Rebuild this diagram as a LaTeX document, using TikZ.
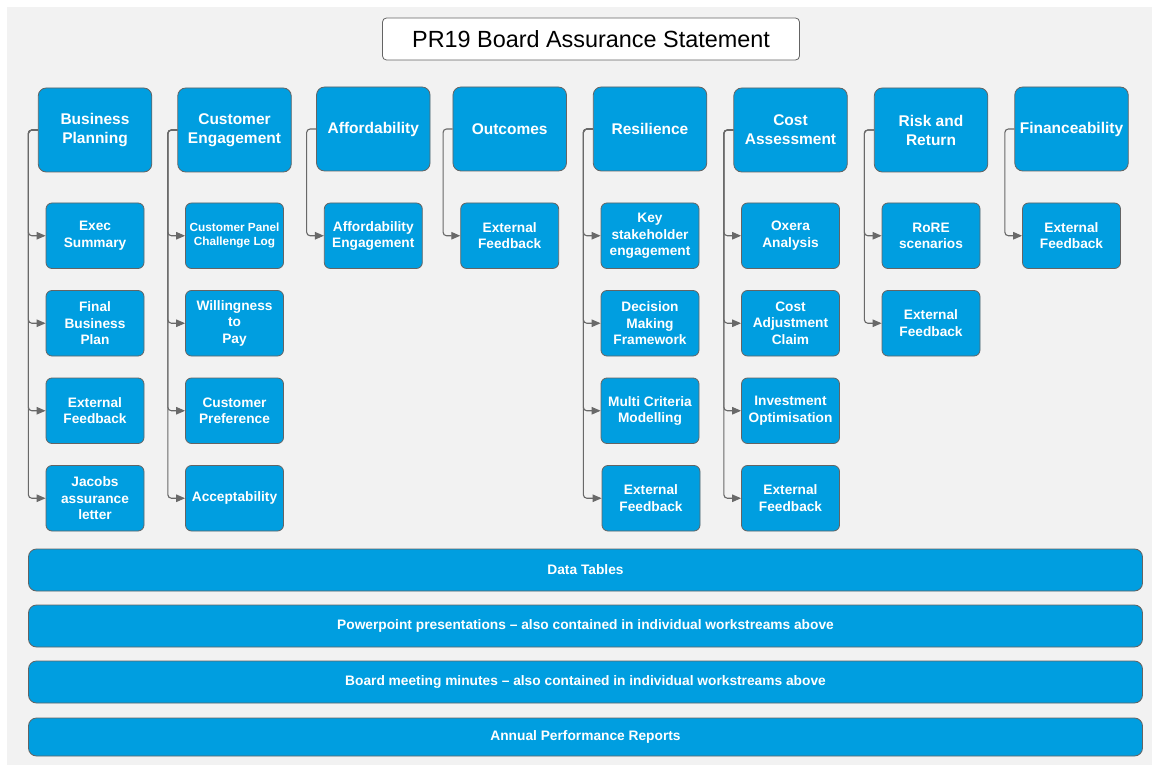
\documentclass[tikz,border=0pt]{standalone}
\usepackage{fontspec}
\setmainfont{Liberation Sans}
\usetikzlibrary{arrows.meta}
\definecolor{boxblue}{RGB}{0,158,224}
\definecolor{bggray}{RGB}{242,242,242}
\definecolor{edgegray}{RGB}{100,100,100}
\definecolor{linegray}{RGB}{105,105,105}
\tikzset{
  parentbox/.style={draw=edgegray, line width=0.8pt, fill=boxblue, rounded corners=8pt,
    minimum width=113.5pt, minimum height=84pt, inner sep=0pt, text=white, align=center,
    font=\bfseries\fontsize{15.5}{19}\selectfont},
  childbox/.style={draw=edgegray, line width=0.8pt, fill=boxblue, rounded corners=6pt,
    minimum width=98pt, minimum height=65.5pt, inner sep=0pt, text=white, align=center,
    font=\bfseries\fontsize{13.7}{16.5}\selectfont},
  smalltext/.style={font=\bfseries\fontsize{11.8}{14.3}\selectfont},
  barbox/.style={draw=edgegray, line width=0.8pt, fill=boxblue, rounded corners=8pt,
    minimum width=1114pt, inner sep=0pt, text=white,
    font=\bfseries\fontsize{13.75}{16.5}\selectfont},
  titlebox/.style={draw=edgegray, line width=0.8pt, fill=white, rounded corners=4pt,
    minimum width=417pt, minimum height=42pt, inner sep=0pt, text=black,
    font=\fontsize{23.4}{28}\selectfont},
  conn/.style={draw=linegray, line width=1.1pt, rounded corners=3.5pt,
    -{Triangle[length=9pt,width=7.5pt]}}
}
\begin{document}
\begin{tikzpicture}[x=1pt,y=-1pt]
\useasboundingbox (0,0) rectangle (1152,765);
\fill[bggray] (7,7) rectangle (1152,765);

\node[titlebox] (title) at (591,39) {PR19 Board Assurance Statement};

% parents
\node[parentbox] (p1) at (95,130) {Business\\Planning};
\node[parentbox] (p2) at (234.5,130) {Customer\\Engagement};
\node[parentbox] (p3) at (373.3,129) {Affordability};
\node[parentbox] (p4) at (509.7,129) {Outcomes};
\node[parentbox] (p5) at (650,129) {Resilience};
\node[parentbox] (p6) at (790.5,130) {Cost\\Assessment};
\node[parentbox] (p7) at (931,130) {Risk and\\Return};
\node[parentbox] (p8) at (1071.5,129) {Financeability};

% column 1
\node[childbox] (c11) at (95,235.75) {Exec\\Summary};
\node[childbox] (c12) at (95,323.25) {Final\\Business\\Plan};
\node[childbox] (c13) at (95,410.75) {External\\Feedback};
\node[childbox] (c14) at (95,498.25) {Jacobs\\assurance\\letter};
% column 2
\node[childbox,smalltext] (c21) at (234.5,235.75) {Customer Panel\\Challenge Log};
\node[childbox] (c22) at (234.5,323.25) {Willingness\\to\\Pay};
\node[childbox] (c23) at (234.5,410.75) {Customer\\Preference};
\node[childbox] (c24) at (234.5,498.25) {Acceptability};
% column 3
\node[childbox] (c31) at (373.3,235.75) {Affordability\\Engagement};
% column 4
\node[childbox] (c41) at (509.7,235.75) {External\\Feedback};
% column 5
\node[childbox] (c51) at (650,235.75) {Key\\stakeholder\\engagement};
\node[childbox] (c52) at (650,323.25) {Decision\\Making\\Framework};
\node[childbox] (c53) at (650,410.75) {Multi Criteria\\Modelling};
\node[childbox] (c54) at (651,498.25) {External\\Feedback};
% column 6
\node[childbox] (c61) at (790.5,235.75) {Oxera\\Analysis};
\node[childbox] (c62) at (790.5,323.25) {Cost\\Adjustment\\Claim};
\node[childbox] (c63) at (790.5,410.75) {Investment\\Optimisation};
\node[childbox] (c64) at (790.5,498.25) {External\\Feedback};
% column 7
\node[childbox] (c71) at (931,235.75) {RoRE\\scenarios};
\node[childbox] (c72) at (931,323.25) {External\\Feedback};
% column 8
\node[childbox] (c81) at (1071.5,235.75) {External\\Feedback};

% connectors
\foreach \p/\cs in {p1/{c11,c12,c13,c14}, p2/{c21,c22,c23,c24}, p3/{c31}, p4/{c41},
                    p5/{c51,c52,c53,c54}, p6/{c61,c62,c63,c64}, p7/{c71,c72}, p8/{c81}}{
  \foreach \c in \cs {
    \draw[conn] (\p.west) -- ++(-9.5,0) |- (\c.west);
  }
}

% bars
\node[barbox, minimum height=42pt] (b1) at (585.5,570) {Data Tables};
\node[barbox, minimum height=42pt] (b2) at (585.5,626) {Powerpoint presentations -- also contained in individual workstreams above};
\node[barbox, minimum height=42pt] (b3) at (585.5,682) {Board meeting minutes -- also contained in individual workstreams above};
\node[barbox, minimum height=38pt] (b4) at (585.5,737) {Annual Performance Reports};
\end{tikzpicture}
\end{document}
